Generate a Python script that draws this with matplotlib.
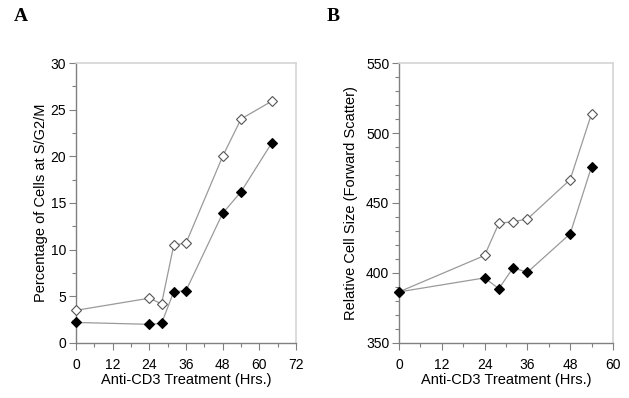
import matplotlib.pyplot as plt
from matplotlib.ticker import MultipleLocator

plt.rcParams['font.family'] = ['Liberation Sans', 'DejaVu Sans']

# Panel A: cell cycle
horas_a = [0, 24, 28, 32, 36, 48, 54, 64]
abiertos_a = [3.5, 4.8, 4.2, 10.5, 10.7, 20.0, 24.0, 25.9]
llenos_a = [2.2, 2.0, 2.1, 5.5, 5.6, 13.9, 16.2, 21.4]

# Panel B: cell size
horas_b = [0, 24, 28, 32, 36, 48, 54]
abiertos_b = [386.5, 412.5, 435.5, 436.7, 438.5, 466.7, 513.8]
llenos_b = [386.5, 396.5, 388.8, 403.7, 400.5, 428.0, 476.0]

gris = '#9a9a9a'
marco = '#d4d4d4'


def dibujar_panel(ax, x, abiertos, llenos):
    ax.plot(x, abiertos, color=gris, lw=0.9, marker='D', ms=5.5,
            mfc='white', mec='#555555', mew=0.8, zorder=3, clip_on=False)
    ax.plot(x, llenos, color=gris, lw=0.9, marker='D', ms=5.5,
            mfc='black', mec='black', mew=0.8, zorder=3, clip_on=False)
    for lado in ['left', 'bottom']:
        ax.spines[lado].set_color('#808080')
        ax.spines[lado].set_linewidth(1.0)
    for lado in ['top', 'right']:
        ax.spines[lado].set_color(marco)
        ax.spines[lado].set_linewidth(1.2)
    ax.tick_params(which='both', direction='out', color='#808080',
                   labelsize=10, width=0.8)
    ax.tick_params(which='major', length=5)
    ax.tick_params(which='minor', length=3)
    ax.tick_params(axis='x', which='major', pad=6)
    ax.tick_params(axis='y', which='major', pad=2)
    ax.xaxis.set_major_locator(MultipleLocator(12))
    ax.xaxis.set_minor_locator(MultipleLocator(6))
    ax.set_xlabel('Anti-CD3 Treatment (Hrs.)', fontsize=10.5, labelpad=0.5)


fig = plt.figure(figsize=(6.29, 3.98), dpi=100)

ax_a = fig.add_axes([0.1208, 0.1382, 0.3498, 0.7035])
dibujar_panel(ax_a, horas_a, abiertos_a, llenos_a)
ax_a.set_xlim(0, 72)
ax_a.set_ylim(0, 30)
ax_a.yaxis.set_major_locator(MultipleLocator(5))
ax_a.yaxis.set_minor_locator(MultipleLocator(2.5))
ax_a.set_ylabel('Percentage of Cells at S/G2/M', fontsize=10.5, labelpad=2)

ax_b = fig.add_axes([0.6343, 0.1382, 0.3402, 0.7035])
dibujar_panel(ax_b, horas_b, abiertos_b, llenos_b)
ax_b.set_xlim(0, 60)
ax_b.set_ylim(350, 550)
ax_b.yaxis.set_major_locator(MultipleLocator(50))
ax_b.yaxis.set_minor_locator(MultipleLocator(10))
ax_b.set_ylabel('Relative Cell Size (Forward Scatter)', fontsize=10.5, labelpad=6)

fig.text(0.022, 0.98, 'A', fontsize=14, fontweight='bold',
         family='Liberation Serif', va='top')
fig.text(0.52, 0.98, 'B', fontsize=14, fontweight='bold',
         family='Liberation Serif', va='top')

fig.savefig('out.png', dpi=100)
